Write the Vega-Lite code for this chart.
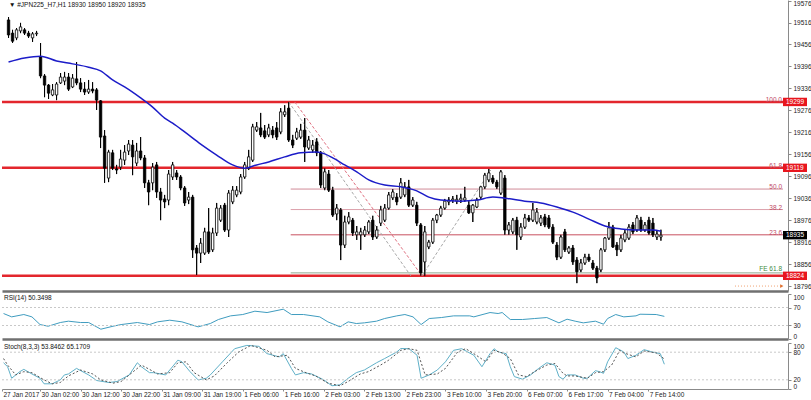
{
"$schema":"https://vega.github.io/schema/vega-lite/v6.json",
"padding":0,
"background":"white",
"spacing":2,
"config":{"view":{"stroke":null},"text":{"font":"Liberation Sans","fontSize":6.5},"axis":{"labelFont":"Liberation Sans","labelFontSize":6.5,"labelColor":"#222222","grid":false,"labelOverlap":false}},
"datasets":{
"candles":[
{"t":1,"o":19523,"h":19531,"l":19474,"c":19482},{"t":2,"o":19487,"h":19496,"l":19460,"c":19465},{"t":3,"o":19474,"h":19501,"l":19468,"c":19496},{"t":4,"o":19493,"h":19515,"l":19487,"c":19504},{"t":5,"o":19496,"h":19501,"l":19482,"c":19487},{"t":6,"o":19487,"h":19493,"l":19474,"c":19479},{"t":7,"o":19474,"h":19490,"l":19463,"c":19485},{"t":8,"o":19485,"h":19493,"l":19479,"c":19487},{"t":9,"o":19422,"h":19460,"l":19364,"c":19370},{"t":10,"o":19370,"h":19375,"l":19312,"c":19345},
{"t":11,"o":19345,"h":19348,"l":19307,"c":19323},{"t":12,"o":19318,"h":19348,"l":19315,"c":19332},{"t":13,"o":19318,"h":19353,"l":19304,"c":19348},{"t":14,"o":19351,"h":19378,"l":19348,"c":19367},{"t":15,"o":19356,"h":19381,"l":19345,"c":19367},{"t":16,"o":19367,"h":19378,"l":19329,"c":19334},{"t":17,"o":19340,"h":19375,"l":19337,"c":19364},{"t":18,"o":19362,"h":19408,"l":19345,"c":19351},{"t":19,"o":19351,"h":19364,"l":19326,"c":19334},{"t":20,"o":19334,"h":19353,"l":19318,"c":19326},
{"t":21,"o":19326,"h":19359,"l":19321,"c":19334},{"t":22,"o":19334,"h":19353,"l":19323,"c":19329},{"t":23,"o":19332,"h":19337,"l":19277,"c":19304},{"t":24,"o":19302,"h":19304,"l":19173,"c":19203},{"t":25,"o":19206,"h":19222,"l":19078,"c":19118},{"t":26,"o":19091,"h":19168,"l":19080,"c":19162},{"t":27,"o":19160,"h":19168,"l":19113,"c":19118},{"t":28,"o":19116,"h":19127,"l":19102,"c":19113},{"t":29,"o":19121,"h":19168,"l":19113,"c":19143},{"t":30,"o":19140,"h":19181,"l":19127,"c":19162},
{"t":31,"o":19165,"h":19195,"l":19154,"c":19184},{"t":32,"o":19181,"h":19195,"l":19099,"c":19149},{"t":33,"o":19132,"h":19187,"l":19124,"c":19165},{"t":34,"o":19165,"h":19203,"l":19140,"c":19146},{"t":35,"o":19146,"h":19154,"l":19064,"c":19078},{"t":36,"o":19078,"h":19086,"l":19017,"c":19053},{"t":37,"o":19078,"h":19132,"l":19058,"c":19121},{"t":38,"o":19127,"h":19135,"l":19037,"c":19053},{"t":39,"o":19053,"h":19064,"l":18976,"c":19031},{"t":40,"o":19034,"h":19045,"l":19009,"c":19026},
{"t":41,"o":19031,"h":19113,"l":19017,"c":19102},{"t":42,"o":19094,"h":19135,"l":19086,"c":19127},{"t":43,"o":19105,"h":19113,"l":19086,"c":19094},{"t":44,"o":19094,"h":19099,"l":19058,"c":19064},{"t":45,"o":19064,"h":19069,"l":19015,"c":19023},{"t":46,"o":19031,"h":19053,"l":19020,"c":19039},{"t":47,"o":19039,"h":19045,"l":18873,"c":18895},{"t":48,"o":18900,"h":18908,"l":18826,"c":18886},{"t":49,"o":18886,"h":18927,"l":18859,"c":18913},{"t":50,"o":18886,"h":18955,"l":18881,"c":18944},
{"t":51,"o":18944,"h":19009,"l":18884,"c":18889},{"t":52,"o":18895,"h":18955,"l":18889,"c":18941},{"t":53,"o":18941,"h":19023,"l":18933,"c":19009},{"t":54,"o":18976,"h":19017,"l":18971,"c":19009},{"t":55,"o":19017,"h":19023,"l":18944,"c":18949},{"t":56,"o":18949,"h":19058,"l":18930,"c":19050},{"t":57,"o":19026,"h":19069,"l":19020,"c":19058},{"t":58,"o":19045,"h":19069,"l":19039,"c":19058},{"t":59,"o":19053,"h":19102,"l":19047,"c":19094},{"t":60,"o":19094,"h":19135,"l":19089,"c":19127},
{"t":61,"o":19118,"h":19168,"l":19113,"c":19149},{"t":62,"o":19140,"h":19239,"l":19135,"c":19231},{"t":63,"o":19222,"h":19244,"l":19217,"c":19231},{"t":64,"o":19228,"h":19269,"l":19203,"c":19209},{"t":65,"o":19220,"h":19236,"l":19198,"c":19203},{"t":66,"o":19209,"h":19239,"l":19203,"c":19228},{"t":67,"o":19222,"h":19233,"l":19200,"c":19209},{"t":68,"o":19228,"h":19244,"l":19195,"c":19203},{"t":69,"o":19217,"h":19282,"l":19211,"c":19272},{"t":70,"o":19264,"h":19290,"l":19258,"c":19272},
{"t":71,"o":19282,"h":19299,"l":19190,"c":19195},{"t":72,"o":19195,"h":19209,"l":19173,"c":19181},{"t":73,"o":19200,"h":19228,"l":19195,"c":19217},{"t":74,"o":19203,"h":19239,"l":19198,"c":19222},{"t":75,"o":19222,"h":19255,"l":19135,"c":19176},{"t":76,"o":19173,"h":19206,"l":19168,"c":19195},{"t":77,"o":19168,"h":19195,"l":19160,"c":19181},{"t":78,"o":19190,"h":19200,"l":19151,"c":19160},{"t":79,"o":19160,"h":19165,"l":19064,"c":19072},{"t":80,"o":19064,"h":19118,"l":19058,"c":19108},
{"t":81,"o":19102,"h":19113,"l":19053,"c":19058},{"t":82,"o":19058,"h":19067,"l":18985,"c":18990},{"t":83,"o":18993,"h":19020,"l":18976,"c":19009},{"t":84,"o":19004,"h":19009,"l":18867,"c":18908},{"t":85,"o":18908,"h":18988,"l":18900,"c":18971},{"t":86,"o":18971,"h":18998,"l":18965,"c":18985},{"t":87,"o":18976,"h":18982,"l":18933,"c":18941},{"t":88,"o":18936,"h":18960,"l":18922,"c":18944},{"t":89,"o":18936,"h":18955,"l":18895,"c":18944},{"t":90,"o":18936,"h":18960,"l":18930,"c":18949},
{"t":91,"o":18944,"h":18976,"l":18938,"c":18971},{"t":92,"o":18976,"h":18988,"l":18922,"c":18930},{"t":93,"o":18930,"h":18960,"l":18925,"c":18949},{"t":94,"o":18968,"h":19015,"l":18960,"c":19004},{"t":95,"o":18976,"h":19020,"l":18971,"c":19009},{"t":96,"o":19009,"h":19053,"l":19004,"c":19045},{"t":97,"o":19037,"h":19061,"l":19031,"c":19053},{"t":98,"o":19039,"h":19050,"l":19017,"c":19026},{"t":99,"o":19039,"h":19091,"l":19034,"c":19078},{"t":100,"o":19045,"h":19080,"l":19039,"c":19067},
{"t":101,"o":19067,"h":19086,"l":19012,"c":19017},{"t":102,"o":19017,"h":19039,"l":19012,"c":19031},{"t":103,"o":19017,"h":19026,"l":18960,"c":18968},{"t":104,"o":18963,"h":18968,"l":18824,"c":18832},{"t":105,"o":18862,"h":18960,"l":18823,"c":18944},{"t":106,"o":18903,"h":18922,"l":18897,"c":18916},{"t":107,"o":18916,"h":18982,"l":18911,"c":18976},{"t":108,"o":18976,"h":18993,"l":18968,"c":18990},{"t":109,"o":18990,"h":19015,"l":18985,"c":19009},{"t":110,"o":19009,"h":19034,"l":19004,"c":19028},
{"t":111,"o":19026,"h":19039,"l":19017,"c":19031},{"t":112,"o":19031,"h":19042,"l":19023,"c":19034},{"t":113,"o":19028,"h":19045,"l":19020,"c":19033},{"t":114,"o":19031,"h":19048,"l":19023,"c":19036},{"t":115,"o":19031,"h":19067,"l":19026,"c":19037},{"t":116,"o":19017,"h":19028,"l":18993,"c":18996},{"t":117,"o":18996,"h":19020,"l":18971,"c":19017},{"t":118,"o":19012,"h":19037,"l":19009,"c":19031},{"t":119,"o":19039,"h":19069,"l":19034,"c":19067},{"t":120,"o":19067,"h":19105,"l":19061,"c":19099},
{"t":121,"o":19086,"h":19116,"l":19080,"c":19105},{"t":122,"o":19091,"h":19099,"l":19075,"c":19080},{"t":123,"o":19080,"h":19086,"l":19061,"c":19067},{"t":124,"o":19050,"h":19113,"l":19045,"c":19108},{"t":125,"o":19091,"h":19099,"l":18936,"c":18949},{"t":126,"o":18949,"h":18971,"l":18936,"c":18963},{"t":127,"o":18944,"h":18982,"l":18938,"c":18976},{"t":128,"o":18976,"h":18985,"l":18895,"c":18936},{"t":129,"o":18930,"h":18968,"l":18922,"c":18957},{"t":130,"o":18957,"h":18993,"l":18952,"c":18982},
{"t":131,"o":18982,"h":18990,"l":18971,"c":18976},{"t":132,"o":18976,"h":19023,"l":18971,"c":19004},{"t":133,"o":18971,"h":19009,"l":18965,"c":18998},{"t":134,"o":18968,"h":18990,"l":18960,"c":18982},{"t":135,"o":18985,"h":18993,"l":18957,"c":18963},{"t":136,"o":18982,"h":18990,"l":18952,"c":18957},{"t":137,"o":18957,"h":18965,"l":18911,"c":18916},{"t":138,"o":18908,"h":18916,"l":18867,"c":18875},{"t":139,"o":18875,"h":18936,"l":18870,"c":18930},{"t":140,"o":18944,"h":18952,"l":18889,"c":18895},
{"t":141,"o":18889,"h":18905,"l":18884,"c":18900},{"t":142,"o":18900,"h":18908,"l":18854,"c":18862},{"t":143,"o":18867,"h":18875,"l":18804,"c":18835},{"t":144,"o":18840,"h":18870,"l":18834,"c":18859},{"t":145,"o":18859,"h":18884,"l":18854,"c":18875},{"t":146,"o":18875,"h":18884,"l":18862,"c":18867},{"t":147,"o":18859,"h":18867,"l":18840,"c":18845},{"t":148,"o":18845,"h":18851,"l":18804,"c":18818},{"t":149,"o":18840,"h":18900,"l":18834,"c":18895},{"t":150,"o":18895,"h":18930,"l":18889,"c":18927},
{"t":151,"o":18927,"h":18971,"l":18922,"c":18955},{"t":152,"o":18957,"h":18963,"l":18900,"c":18903},{"t":153,"o":18908,"h":18916,"l":18878,"c":18895},{"t":154,"o":18895,"h":18936,"l":18889,"c":18927},{"t":155,"o":18922,"h":18949,"l":18916,"c":18941},{"t":156,"o":18927,"h":18965,"l":18922,"c":18957},{"t":157,"o":18963,"h":18971,"l":18938,"c":18944},{"t":158,"o":18949,"h":18990,"l":18944,"c":18982},{"t":159,"o":18976,"h":18985,"l":18944,"c":18949},{"t":160,"o":18949,"h":18971,"l":18944,"c":18963},
{"t":161,"o":18976,"h":18985,"l":18936,"c":18941},{"t":162,"o":18968,"h":18982,"l":18930,"c":18936},{"t":163,"o":18930,"h":18949,"l":18922,"c":18938},{"t":164,"o":18930,"h":18950,"l":18920,"c":18935}
],
"ma":[
{"t":1,"p":19408},{"t":5,"p":19419},{"t":9,"p":19424},{"t":13,"p":19411},{"t":17,"p":19403},{"t":21,"p":19394},{"t":24,"p":19384},{"t":27,"p":19359},{"t":30,"p":19340},{"t":34,"p":19310},{"t":37,"p":19285},{"t":40,"p":19255},{"t":42,"p":19241},{"t":45,"p":19217},{"t":49,"p":19184},{"t":53,"p":19154},{"t":57,"p":19127},{"t":60,"p":19118},{"t":63,"p":19127},{"t":66,"p":19135},{"t":70,"p":19149},{"t":74,"p":19160},{"t":78,"p":19162},{"t":80,"p":19157},{"t":82,"p":19146},{"t":85,"p":19127},{"t":88,"p":19108},{"t":91,"p":19086},{"t":95,"p":19072},{"t":99,"p":19067},{"t":103,"p":19056},{"t":106,"p":19039},{"t":109,"p":19031},{"t":114,"p":19028},{"t":118,"p":19031},{"t":122,"p":19039},{"t":125,"p":19036},{"t":130,"p":19028},{"t":134,"p":19023},{"t":138,"p":19012},{"t":142,"p":18998},{"t":146,"p":18979},{"t":150,"p":18960},{"t":154,"p":18952},{"t":158,"p":18949},{"t":162,"p":18949},{"t":164,"p":18946}
],
"hl":[{"p":19299},{"p":19119},{"p":18824}],
"fib":[{"p":19299,"lbl":"100.0","col":"#d08a98"},{"p":19119,"lbl":"61.8","col":"#d08a98"},{"p":19061,"lbl":"50.0","col":"#d08a98"},{"p":19005,"lbl":"38.2","col":"#dca0ab"},{"p":18936,"lbl":"23.6","col":"#c8505f"}],
"fe":[{"p":18832,"lbl":"FE 61.8"}],
"diag":[{"s":"r","t":72.5,"p":19299},{"s":"r","t":104.3,"p":18824},{"s":"g1","t":71,"p":19299},{"s":"g1","t":101.5,"p":18824},{"s":"g2","t":104.3,"p":18824},{"s":"g2","t":121.5,"p":19113}],
"boxes":[{"p":19299,"txt":"19299","bg":"#e8161e"},{"p":19119,"txt":"19119","bg":"#e8161e"},{"p":18824,"txt":"18824","bg":"#e8161e"},{"p":18935,"txt":"18935","bg":"#000000"}],
"rsi":[
{"t":1,"v":56.6},{"t":3,"v":49.2},{"t":6,"v":54.4},{"t":8,"v":49.2},{"t":10,"v":32.1},{"t":12,"v":28.4},{"t":15,"v":36.6},{"t":17,"v":39.6},{"t":20,"v":36.6},{"t":22,"v":36.6},{"t":25,"v":21.8},{"t":28,"v":28.4},{"t":30,"v":32.1},{"t":34,"v":36.6},{"t":37,"v":32.1},{"t":39,"v":38.1},{"t":42,"v":41.8},{"t":45,"v":38.1},{"t":49,"v":27},{"t":52,"v":34.4},{"t":54,"v":43.3},{"t":57,"v":51.4},{"t":60,"v":54.4},{"t":63,"v":61.8},{"t":66,"v":58.8},{"t":70,"v":66.2},{"t":72,"v":54.4},{"t":75,"v":54.4},{"t":79,"v":49.2},{"t":81,"v":38.1},{"t":84,"v":27},{"t":86,"v":38.1},{"t":88,"v":34.4},{"t":90,"v":35.9},{"t":93,"v":39.6},{"t":95,"v":45.5},{"t":98,"v":51.4},{"t":100,"v":54.4},{"t":102,"v":49.2},{"t":104,"v":32.1},{"t":106,"v":45.5},{"t":109,"v":47.7},{"t":112,"v":51.4},{"t":116,"v":51.4},{"t":117,"v":49.2},{"t":121,"v":58.8},{"t":123,"v":56.6},{"t":124,"v":58.8},{"t":126,"v":43.3},{"t":129,"v":43.3},{"t":132,"v":45.5},{"t":135,"v":47.7},{"t":138,"v":35.9},{"t":140,"v":44},{"t":142,"v":39.6},{"t":144,"v":35.9},{"t":147,"v":39.6},{"t":149,"v":32.9},{"t":150,"v":45.5},{"t":152,"v":54.4},{"t":154,"v":49.2},{"t":157,"v":51.4},{"t":158,"v":55.1},{"t":162,"v":54.4},{"t":164,"v":50.3}
],
"stk":[
{"t":1,"v":57},{"t":2,"v":48.4},{"t":3,"v":23.4},{"t":5,"v":37.7},{"t":6,"v":42.7},{"t":8,"v":32.7},{"t":10,"v":23.4},{"t":11,"v":11.3},{"t":13,"v":11.3},{"t":15,"v":19.8},{"t":16,"v":30.6},{"t":17,"v":32.7},{"t":19,"v":44.8},{"t":22,"v":30.6},{"t":24,"v":18.4},{"t":27,"v":14.1},{"t":29,"v":16.3},{"t":32,"v":30.6},{"t":34,"v":57},{"t":35,"v":48.4},{"t":37,"v":35.5},{"t":38,"v":35.5},{"t":41,"v":30.6},{"t":43,"v":52},{"t":44,"v":62.7},{"t":45,"v":59.1},{"t":47,"v":37.7},{"t":49,"v":19.8},{"t":51,"v":23.4},{"t":52,"v":30.6},{"t":55,"v":59.1},{"t":58,"v":87.6},{"t":61,"v":94.8},{"t":64,"v":92.7},{"t":66,"v":76.9},{"t":69,"v":69.8},{"t":70,"v":76.9},{"t":72,"v":44.8},{"t":73,"v":30.6},{"t":75,"v":35.5},{"t":77,"v":32.7},{"t":80,"v":19.8},{"t":82,"v":7},{"t":84,"v":9.1},{"t":86,"v":23.4},{"t":88,"v":35.5},{"t":90,"v":41.3},{"t":93,"v":57},{"t":95,"v":66.2},{"t":98,"v":80.5},{"t":99,"v":88},{"t":101,"v":87.6},{"t":103,"v":73.4},{"t":104,"v":23.4},{"t":106,"v":30.6},{"t":108,"v":41.3},{"t":110,"v":59.1},{"t":112,"v":84.1},{"t":114,"v":87.6},{"t":117,"v":73.4},{"t":119,"v":48.4},{"t":121,"v":76.9},{"t":122,"v":87.6},{"t":123,"v":80.5},{"t":125,"v":76.9},{"t":126,"v":48.4},{"t":127,"v":27},{"t":129,"v":21.3},{"t":131,"v":30.6},{"t":133,"v":44.8},{"t":135,"v":57},{"t":137,"v":52},{"t":138,"v":27},{"t":139,"v":21.3},{"t":140,"v":30.6},{"t":142,"v":30.6},{"t":144,"v":23.4},{"t":145,"v":23.4},{"t":147,"v":39.8},{"t":148,"v":37.7},{"t":149,"v":34.1},{"t":150,"v":59.1},{"t":152,"v":89.8},{"t":154,"v":80.5},{"t":155,"v":66.2},{"t":157,"v":73.4},{"t":159,"v":85.5},{"t":161,"v":80.5},{"t":163,"v":76.9},{"t":164,"v":53.8}
],
"sig":[
{"t":1,"v":66.2},{"t":2,"v":52},{"t":4,"v":30.6},{"t":6,"v":37.7},{"t":8,"v":35.5},{"t":11,"v":19.8},{"t":13,"v":11.3},{"t":15,"v":14.1},{"t":17,"v":28.4},{"t":20,"v":41.3},{"t":23,"v":32.7},{"t":25,"v":19.8},{"t":28,"v":12.7},{"t":30,"v":16.3},{"t":33,"v":37.7},{"t":35,"v":52},{"t":37,"v":42.7},{"t":39,"v":32.7},{"t":42,"v":35.5},{"t":44,"v":57},{"t":46,"v":59.1},{"t":48,"v":35.5},{"t":51,"v":19.8},{"t":53,"v":28.4},{"t":56,"v":55.5},{"t":59,"v":80.5},{"t":62,"v":94.8},{"t":66,"v":84.1},{"t":68,"v":69.8},{"t":71,"v":73.4},{"t":73,"v":44.8},{"t":76,"v":34.1},{"t":78,"v":28.4},{"t":81,"v":12.7},{"t":84,"v":7},{"t":86,"v":16.3},{"t":89,"v":32.7},{"t":91,"v":37.7},{"t":94,"v":52},{"t":96,"v":62.7},{"t":99,"v":84.1},{"t":101,"v":87.6},{"t":103,"v":84.1},{"t":105,"v":30.6},{"t":108,"v":32.7},{"t":110,"v":44.8},{"t":113,"v":80.5},{"t":115,"v":87.6},{"t":117,"v":76.9},{"t":120,"v":59.1},{"t":122,"v":84.1},{"t":124,"v":78.4},{"t":126,"v":66.2},{"t":128,"v":30.6},{"t":130,"v":27},{"t":132,"v":37.7},{"t":135,"v":52},{"t":137,"v":55.5},{"t":139,"v":34.1},{"t":140,"v":28.4},{"t":142,"v":28.4},{"t":145,"v":23.4},{"t":147,"v":35.5},{"t":149,"v":37.7},{"t":151,"v":52},{"t":153,"v":84.1},{"t":154,"v":78.4},{"t":157,"v":69.8},{"t":159,"v":82.7},{"t":162,"v":78.4},{"t":164,"v":65.2}
],
"rsilev":[{"v":30},{"v":70}],
"stlev":[{"v":20},{"v":80}]
},
"vconcat":[
{
"width":786,"height":291,
"resolve":{"axis":{"x":"independent","y":"independent"}},
"layer":[
{"data":{"name":"candles"},"mark":{"type":"rule","color":"#000000","strokeWidth":1},
 "encoding":{
  "x":{"field":"t","type":"quantitative","scale":{"domain":[0.617,194.5],"nice":false,"zero":false},
   "axis":{"orient":"bottom","labels":false,"ticks":false,"domain":true,"domainColor":"#707070","domainWidth":2.5,"grid":false,"title":null}},
  "y":{"field":"l","type":"quantitative","scale":{"domain":[18782.5,19577.5],"nice":false,"zero":false},
   "axis":{"orient":"right","values":[18796,18856,18916,18976,19036,19096,19156,19216,19276,19336,19396,19456,19516,19576],"format":"d","labelOverlap":false,"title":null,"grid":false,"domainColor":"#8a8a8a","tickColor":"#8a8a8a","tickSize":3,"labelPadding":2,"labelAlign":"left","labelFlush":1}},
  "y2":{"field":"h"}}},
{"data":{"name":"fib"},"mark":{"type":"rule","strokeWidth":1},
 "encoding":{"x":{"datum":71.5,"type":"quantitative","axis":null},"x2":{"datum":194.5},"y":{"field":"p","type":"quantitative","axis":null},"color":{"field":"col","type":"nominal","scale":null}}},
{"data":{"name":"fe"},"mark":{"type":"rule","color":"#8fa88f","strokeWidth":1},
 "encoding":{"x":{"datum":71.5,"type":"quantitative","axis":null},"x2":{"datum":194.5},"y":{"field":"p","type":"quantitative","axis":null}}},
{"data":{"name":"hl"},"mark":{"type":"rule","color":"#e3262d","strokeWidth":2.5},
 "encoding":{"y":{"field":"p","type":"quantitative","axis":null}}},
{"data":{"name":"diag"},"mark":{"type":"line","strokeWidth":1,"strokeDash":[3,2]},
 "encoding":{"x":{"field":"t","type":"quantitative","axis":null},"y":{"field":"p","type":"quantitative","axis":null},"detail":{"field":"s","type":"nominal"},
  "stroke":{"condition":{"test":"datum.s == 'r'","value":"#e07080"},"value":"#a8a8a8"}}},
{"data":{"name":"candles"},"mark":{"type":"rule","color":"#000000","strokeWidth":1},
 "encoding":{"x":{"field":"t","type":"quantitative","axis":null},"y":{"field":"l","type":"quantitative","axis":null},"y2":{"field":"h"}}},
{"data":{"name":"candles"},"mark":{"type":"bar","size":2.4,"stroke":"#000000","strokeWidth":0.8},
 "encoding":{"x":{"field":"t","type":"quantitative","axis":null},"y":{"field":"o","type":"quantitative","axis":null},"y2":{"field":"c"},
  "fill":{"condition":{"test":"datum.c >= datum.o","value":"#ffffff"},"value":"#000000"}}},
{"data":{"name":"ma"},"mark":{"type":"line","color":"#1c1cc8","strokeWidth":1.5,"interpolate":"monotone"},
 "encoding":{"x":{"field":"t","type":"quantitative","axis":null},"y":{"field":"p","type":"quantitative","axis":null}}},
{"data":{"name":"fib"},"mark":{"type":"text","color":"#c04a66","align":"right","baseline":"bottom","dx":-1,"dy":1,"fontSize":6.5},
 "encoding":{"x":{"datum":194.5,"type":"quantitative","axis":null},"y":{"field":"p","type":"quantitative","axis":null},"text":{"field":"lbl"}}},
{"data":{"name":"fe"},"mark":{"type":"text","color":"#3f8a3f","align":"right","baseline":"bottom","dx":-1,"dy":-1,"fontSize":6.5},
 "encoding":{"x":{"datum":194.5,"type":"quantitative","axis":null},"y":{"field":"p","type":"quantitative","axis":null},"text":{"field":"lbl"}}},
{"data":{"values":[{"k":1}]},"mark":{"type":"rule","color":"#f0a070","strokeWidth":1,"strokeDash":[1,2]},
 "encoding":{"x":{"datum":182.5,"type":"quantitative","axis":null},"x2":{"datum":194},"y":{"datum":18796,"type":"quantitative","axis":null}}},
{"data":{"values":[{"k":1}]},"mark":{"type":"point","shape":"triangle-right","filled":true,"size":14,"color":"#e07030","opacity":1},
 "encoding":{"x":{"datum":194.2,"type":"quantitative","axis":null},"y":{"datum":18796,"type":"quantitative","axis":null}}},
{"data":{"name":"boxes"},"mark":{"type":"point","shape":"M0,-0.35L2,-0.35L2,0.35L0,0.35Z","filled":true,"size":576,"opacity":1,"strokeWidth":0},
 "encoding":{"x":{"datum":194.5,"type":"quantitative","axis":null},"y":{"field":"p","type":"quantitative","axis":null},"color":{"field":"bg","type":"nominal","scale":null}}},
{"data":{"name":"boxes"},"mark":{"type":"text","color":"#ffffff","align":"left","baseline":"middle","dx":3,"fontSize":6.5},
 "encoding":{"x":{"datum":194.5,"type":"quantitative","axis":null},"y":{"field":"p","type":"quantitative","axis":null},"text":{"field":"txt"}}},
{"data":{"values":[{"k":1}]},"mark":{"type":"text","color":"#111111","align":"left","baseline":"top","dx":2,"dy":2,"fontSize":6.5},
 "encoding":{"x":{"datum":0.617,"type":"quantitative","axis":null},"y":{"datum":19577.5,"type":"quantitative","axis":null},"text":{"value":"▼  #JPN225_H7,H1  18930 18950 18920 18935"}}}
]
},
{
"width":786,"height":45,
"resolve":{"axis":{"x":"independent","y":"independent"}},
"layer":[
{"data":{"name":"rsi"},"mark":{"type":"line","color":"#3f9cbf","strokeWidth":1},
 "encoding":{
  "x":{"field":"t","type":"quantitative","scale":{"domain":[0.617,194.5],"nice":false,"zero":false},
   "axis":{"orient":"bottom","labels":false,"ticks":false,"domain":true,"domainColor":"#707070","domainWidth":2.5,"grid":false,"title":null}},
  "y":{"field":"v","type":"quantitative","scale":{"domain":[0,100],"nice":false,"zero":false},
   "axis":{"orient":"right","values":[0,30,70,100],"format":"d","labelOverlap":false,"title":null,"grid":false,"domainColor":"#8a8a8a","tickColor":"#8a8a8a","tickSize":3,"labelPadding":2,"labelAlign":"left","labelFlush":true}}}},
{"data":{"name":"rsilev"},"mark":{"type":"rule","color":"#c8c8c8","strokeWidth":1,"strokeDash":[2,2]},
 "encoding":{"y":{"field":"v","type":"quantitative","axis":null}}},
{"data":{"values":[{"k":1}]},"mark":{"type":"text","color":"#111111","align":"left","baseline":"top","dx":2,"dy":1,"fontSize":6.5},
 "encoding":{"x":{"datum":0.617,"type":"quantitative","axis":null},"y":{"datum":100,"type":"quantitative","axis":null},"text":{"value":"RSI(14) 50.3498"}}}
]
},
{
"width":786,"height":46,
"resolve":{"axis":{"x":"independent","y":"independent"}},
"layer":[
{"data":{"name":"stk"},"mark":{"type":"line","color":"#5fb0c8","strokeWidth":1},
 "encoding":{
  "x":{"field":"t","type":"quantitative","scale":{"domain":[0.617,194.5],"nice":false,"zero":false},
   "axis":{"orient":"bottom","values":[0.617,10,20,30,40,50,60,70,80,90,100,110,120,130,140,150,160],"labelExpr":"['27 Jan 2017','30 Jan 02:00','30 Jan 12:00','30 Jan 22:00','31 Jan 09:00','31 Jan 19:00','1 Feb 06:00','1 Feb 16:00','2 Feb 03:00','2 Feb 13:00','2 Feb 23:00','3 Feb 10:00','3 Feb 20:00','6 Feb 07:00','6 Feb 17:00','7 Feb 04:00','7 Feb 14:00'][round(datum.value/10)]","labelAlign":"left","labelBaseline":"top","labelPadding":0,"labelOffset":1,"labelOverlap":false,"tickSize":2,"tickColor":"#8a8a8a","domainColor":"#8a8a8a","grid":false,"title":null}},
  "y":{"field":"v","type":"quantitative","scale":{"domain":[0,100],"nice":false,"zero":false},
   "axis":{"orient":"right","values":[0,20,80,100],"format":"d","labelOverlap":false,"title":null,"grid":false,"domainColor":"#8a8a8a","tickColor":"#8a8a8a","tickSize":3,"labelPadding":2,"labelAlign":"left","labelFlush":true}}}},
{"data":{"name":"stlev"},"mark":{"type":"rule","color":"#c8c8c8","strokeWidth":1,"strokeDash":[2,2]},
 "encoding":{"y":{"field":"v","type":"quantitative","axis":null}}},
{"data":{"name":"sig"},"mark":{"type":"line","color":"#555555","strokeWidth":1,"strokeDash":[2,2]},
 "encoding":{"x":{"field":"t","type":"quantitative","axis":null},"y":{"field":"v","type":"quantitative","axis":null}}},
{"data":{"values":[{"k":1}]},"mark":{"type":"text","color":"#111111","align":"left","baseline":"top","dx":2,"dy":1,"fontSize":6.5},
 "encoding":{"x":{"datum":0.617,"type":"quantitative","axis":null},"y":{"datum":100,"type":"quantitative","axis":null},"text":{"value":"Stoch(8,3,3) 53.8462 65.1709"}}}
]
}
]
}
